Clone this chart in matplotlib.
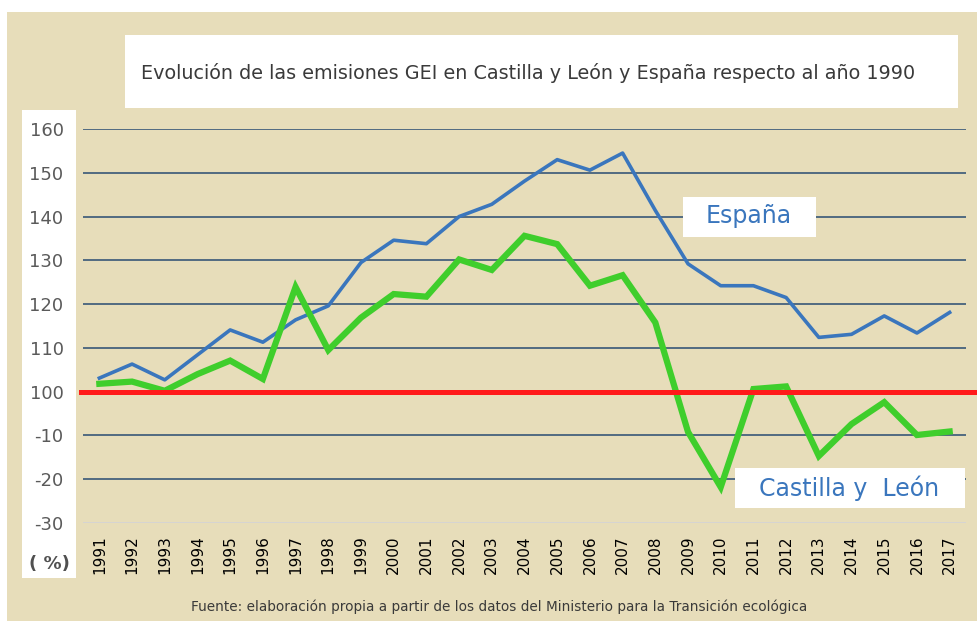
import matplotlib.pyplot as plt
from matplotlib.patches import Rectangle

# data (index, 1990 = 100)
years = list(range(1991, 2018))
espana = [103.1, 106.3, 102.7, 108.4, 114.1, 111.3, 116.4, 119.6, 129.5, 134.6,
          133.8, 140.0, 142.8, 148.1, 153.0, 150.6, 154.5, 141.4, 129.2, 124.2,
          124.2, 121.5, 112.4, 113.1, 117.3, 113.4, 118.1]
castilla_leon = [101.8, 102.3, 100.2, 104.0, 107.1, 102.9, 123.9, 109.5, 116.9, 122.3,
                 121.7, 130.2, 127.8, 135.6, 133.7, 124.2, 126.6, 115.8, 90.8, 78.2,
                 100.6, 101.2, 85.3, 92.6, 97.6, 90.1, 90.9]
y_ticks = [70, 80, 90, 100, 110, 120, 130, 140, 150, 160]
y_tick_labels = ['-30', '-20', '-10', '100', '110', '120', '130', '140', '150', '160']

title = 'Evolución de las emisiones GEI en Castilla y León y España respecto al año 1990'
source = 'Fuente: elaboración propia a partir de los datos del Ministerio para la Transición ecológica'

W, H = 977, 621
beige = '#e7ddba'
grid_col = '#46627c'
blue = '#3a76bd'
green = '#3fce2c'


def box(target, x0, y0, x1, y1, color, z=0):
    # rectangle in pixel coords (top-left origin)
    r = Rectangle((x0 / W, 1 - y1 / H), (x1 - x0) / W, (y1 - y0) / H,
                  transform=fig.transFigure, facecolor=color,
                  edgecolor='none', zorder=z, clip_on=False)
    if target is fig:
        fig.patches.append(r)
    else:
        target.add_patch(r)


fig = plt.figure(figsize=(W / 100, H / 100), dpi=100)
fig.patch.set_facecolor('white')
box(fig, 7, 12, 977, 621, beige)
box(fig, 125, 35, 958, 108, 'white')
box(fig, 22, 110, 76, 578, 'white')

ax = fig.add_axes([83 / W, 1 - 523 / H, (966 - 83) / W, (523 - 129) / H])
ax.set_facecolor('none')
ax.set_zorder(2)

for v in y_ticks[1:]:
    if v != 100:
        ax.axhline(v, color=grid_col, lw=1.3, zorder=1)
ax.axhline(70, color='#d4d4d4', lw=2, zorder=1)

ax.plot(years, espana, color=blue, lw=2.6, zorder=3)
ax.plot(years, castilla_leon, color=green, lw=4.5, zorder=3, solid_joinstyle='miter')
ax.plot([1990.45, 2018.9], [100, 100], color='#ff1a1a', lw=3.6, zorder=4, clip_on=False)

ax.set_xlim(1990.5, 2017.5)
ax.set_ylim(70, 160)
ax.set_yticks(y_ticks)
ax.set_yticklabels(y_tick_labels, fontsize=13, color='#5a5a5a')
ax.set_xticks(years)
ax.set_xticklabels([str(y) for y in years], rotation=90, fontsize=11, color='black')
ax.tick_params(axis='y', length=0, pad=14)
ax.tick_params(axis='x', length=0, pad=9)
for s in ax.spines.values():
    s.set_visible(False)

# label boxes
box(ax, 683, 197, 816, 237, 'white', z=5)
box(ax, 735, 468, 965, 508, 'white', z=5)
fig.text(749 / W, 1 - 216 / H, 'España', fontsize=17, color=blue,
         ha='center', va='center', zorder=6)
fig.text(849 / W, 1 - 488 / H, 'Castilla y  León', fontsize=17, color=blue,
         ha='center', va='center', zorder=6)

fig.text(528 / W, 1 - 73 / H, title, fontsize=13.8, color='#3a3a3a',
         ha='center', va='center')
fig.text(49 / W, 1 - 564 / H, '( %)', fontsize=13, color='#505050', fontweight='bold',
         ha='center', va='center')
fig.text(499 / W, 1 - 607 / H, source, fontsize=9.8, color='#3a3a3a',
         ha='center', va='center')

fig.savefig('out.png', dpi=100, facecolor=fig.get_facecolor())
